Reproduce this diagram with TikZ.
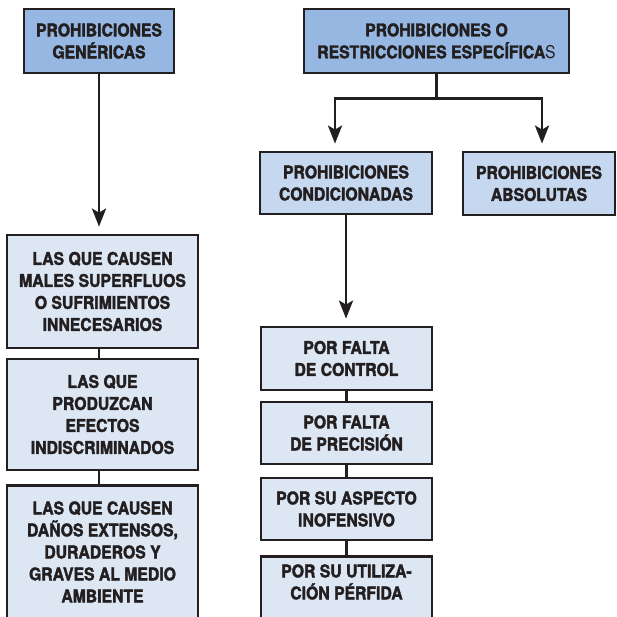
\documentclass[tikz,border=0pt]{standalone}
\usepackage{fontspec}
\setmainfont{TeX Gyre Heros}[FakeStretch=0.9, BoldFeatures={FakeBold=2}]
\usetikzlibrary{arrows.meta}
\definecolor{azulfuerte}{HTML}{95B7E2}
\definecolor{azulmedio}{HTML}{C6D8F0}
\definecolor{azulclaro}{HTML}{DDE7F4}
\definecolor{tinta}{HTML}{231F20}
\tikzset{
    caja/.style={draw=tinta, line width=2.8pt, text=tinta, inner sep=0pt, align=center,
        font=\fontsize{17.5}{22}\selectfont\bfseries},
    titulo/.style={caja, fill=azulfuerte},
    tipo/.style={caja, fill=azulmedio},
    caso/.style={caja, fill=azulclaro},
    enlace/.style={draw=tinta, line width=2.8pt},
    flecha/.style={enlace, -{Stealth[length=18pt,width=14pt,inset=4pt]}, shorten >=7pt},
}

\begin{document}
\begin{tikzpicture}[x=1pt,y=-1pt]
\path [use as bounding box, fill=white] (0,0) rectangle (617,617);
\clip (0,0) rectangle (617,617);

% cabeceras
\node [titulo, minimum width=150pt, minimum height=64pt] at (99,41) (gen) {PROHIBICIONES\\GENÉRICAS};
\node [titulo, minimum width=265pt, minimum height=64pt] at (436.5,41) (esp) {PROHIBICIONES O\\RESTRICCIONES ESPECÍFICA{\mdseries S}};

\node [tipo, minimum width=172pt, minimum height=62pt] at (346,183) (cond) {PROHIBICIONES\\CONDICIONADAS};
\node [tipo, minimum width=152pt, minimum height=63pt] at (539,183.5) (abs) {PROHIBICIONES\\ABSOLUTAS};

% columna izquierda
\node [caso, minimum width=191pt, minimum height=113pt] at (102.5,291.5) (males) {LAS QUE CAUSEN\\MALES SUPERFLUOS\\O SUFRIMIENTOS\\INNECESARIOS};
\node [caso, minimum width=191pt, minimum height=111pt] at (102.5,414.5) (efectos) {LAS QUE\\PRODUZCAN\\EFECTOS\\INDISCRIMINADOS};
\node [caso, minimum width=191pt, inner ysep=16pt, anchor=north] at (102.5,484) (danos) {LAS QUE CAUSEN\\DAÑOS EXTENSOS,\\DURADEROS Y\\GRAVES AL MEDIO\\AMBIENTE\rule[-40pt]{0pt}{0pt}};

% columna derecha
\node [caso, minimum width=171pt, minimum height=63pt] at (346.5,358.5) (control) {POR FALTA\\DE CONTROL};
\node [caso, minimum width=171pt, minimum height=62pt] at (346.5,433) (precision) {POR FALTA\\DE PRECISIÓN};
\node [caso, minimum width=171pt, minimum height=62pt] at (346.5,509) (aspecto) {POR SU ASPECTO\\INOFENSIVO};
\node [caso, minimum width=171pt, inner ysep=8pt, anchor=north] at (346.5,555) (perfida) {POR SU UTILIZA-\\CIÓN PÉRFIDA\rule[-40pt]{0pt}{0pt}};

\coordinate [yshift=-24pt] (rama) at (esp.south);

\draw [flecha] (gen.south) -- (gen.south |- males.north);
\draw [enlace] (gen.south |- males.south) -- (gen.south |- efectos.north);
\draw [enlace] (gen.south |- efectos.south) -- (gen.south |- danos.north);

\draw [enlace] (esp.south) -- (rama);
\draw [flecha] (rama) -| ([xshift=-11pt]cond.north);
\draw [flecha] (rama) -| ([xshift=3pt]abs.north);

\draw [flecha] (cond.south) -- (cond.south |- control.north);
\draw [enlace] (control) -- (precision);
\draw [enlace] (precision) -- (aspecto);
\draw [enlace] (aspecto) -- (perfida);

\end{tikzpicture}
\end{document}
